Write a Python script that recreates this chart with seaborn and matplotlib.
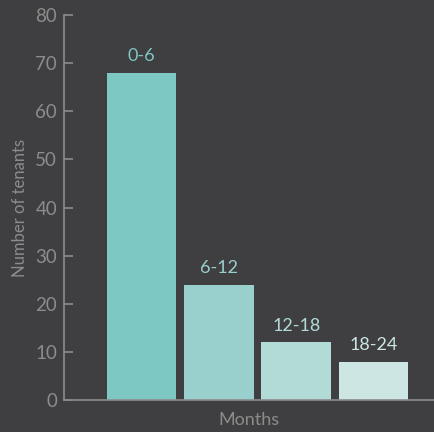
import pandas as pd
import matplotlib
matplotlib.use("Agg")
import matplotlib.pyplot as plt
import seaborn as sns

# ---------- Data ----------
months = ["0-6", "6-12", "12-18", "18-24"]
tenants = [68, 24, 12, 8]
bar_colors = ["#7ec8c3", "#99cfcc", "#b2dbd8", "#cde6e4"]

df = pd.DataFrame({"months": months, "tenants": tenants})

# ---------- Style ----------
bg = "#3f3f41"
grey = "#8c8c8c"
sns.set_style("dark")
plt.rcParams["font.family"] = ["Lato", "DejaVu Sans"]

fig = plt.figure(figsize=(4.34, 4.32), dpi=100, facecolor=bg)
ax = fig.add_axes([0.1475, 0.074, 0.8525, 0.891])
ax.set_facecolor(bg)

sns.barplot(data=df, x="months", y="tenants", hue="months",
            palette=bar_colors, width=0.9, legend=False, ax=ax,
            saturation=1, linewidth=0)

for i, (lab, val) in enumerate(zip(months, tenants)):
    ax.text(i, val + 1.8, lab, ha="center", va="bottom",
            fontsize=13, color=bar_colors[i])

ax.set_xlim(-1.0, 3.78)
ax.set_ylim(0, 80)
ax.set_yticks(range(0, 81, 10))
ax.set_xticks([])
ax.grid(False)

for side in ["top", "right"]:
    ax.spines[side].set_visible(False)
for side in ["left", "bottom"]:
    ax.spines[side].set_color(grey)
    ax.spines[side].set_linewidth(1.2)

ax.tick_params(axis="y", direction="in", length=6.5, width=1.2,
               color=grey, labelcolor=grey, labelsize=13.5, pad=5, left=True)
ax.set_ylabel("Number of tenants", color=grey, fontsize=12, labelpad=5)
ax.set_xlabel("Months", color=grey, fontsize=13, labelpad=8.5)

fig.savefig("out.png", dpi=100, facecolor=bg)
